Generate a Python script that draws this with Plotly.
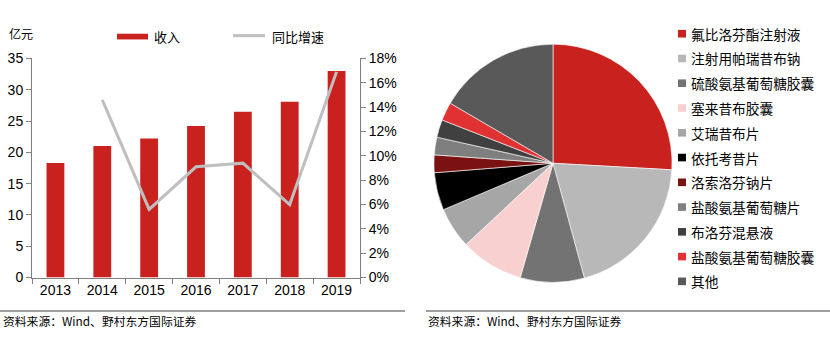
import plotly.graph_objects as go

years = ["2013", "2014", "2015", "2016", "2017", "2018", "2019"]
revenue = [18.3, 21.0, 22.2, 24.2, 26.5, 28.1, 33.0]
growth = [None, 0.146, 0.056, 0.091, 0.094, 0.060, 0.169]

drugs = ["氟比洛芬酯注射液", "注射用帕瑞昔布钠", "硫酸氨基葡萄糖胶囊", "塞来昔布胶囊", "艾瑞昔布片",
         "依托考昔片", "洛索洛芬钠片", "盐酸氨基葡萄糖片", "布洛芬混悬液", "盐酸氨基葡萄糖胶囊", "其他"]
shares = [25.9, 19.9, 8.7, 8.6, 5.6, 5.1, 2.4, 2.4, 2.4, 2.5, 16.6]
pie_colors = ["#C9211E", "#B8B8B8", "#737373", "#F8D0D0", "#A6A6A6", "#000000",
              "#7B1212", "#7F7F7F", "#404040", "#E03232", "#595959"]

W, H = 830, 337
CJK = "Noto Sans CJK SC"
NUM = "Liberation Sans, Arial"

fig = go.Figure()
fig.add_trace(go.Bar(x=years, y=revenue, marker=dict(color="#C9211E", line=dict(width=0)),
                     width=0.38, showlegend=False, xaxis="x", yaxis="y"))
fig.add_trace(go.Scatter(x=years, y=growth, mode="lines", line=dict(color="#BFBFBF", width=3),
                         showlegend=False, xaxis="x", yaxis="y2"))
fig.add_trace(go.Pie(labels=drugs, values=shares, sort=False, direction="clockwise", rotation=0,
                     marker=dict(colors=pie_colors, line=dict(color="white", width=0.6)),
                     textinfo="none", hoverinfo="label+percent", showlegend=False,
                     domain=dict(x=[(553 - 125) / W, (553 + 125) / W],
                                 y=[(H - 163 - 125) / H, (H - 163 + 125) / H])))

axcol = "#808080"
fig.update_layout(
    width=W, height=H, margin=dict(l=0, r=0, t=0, b=0),
    paper_bgcolor="white", plot_bgcolor="white", bargap=0.62,
    xaxis=dict(domain=[32 / W, 360 / W], showline=True, linecolor=axcol, linewidth=1,
               ticks="outside", ticklen=5, tickcolor=axcol, tickson="boundaries",
               tickfont=dict(family=NUM, size=14, color="#000"), anchor="y", showgrid=False),
    yaxis=dict(domain=[(H - 283) / H, (H - 53) / H], range=[0, 35], dtick=5,
               showline=True, linecolor=axcol, linewidth=1, ticks="outside", ticklen=5,
               tickcolor=axcol, showgrid=False, zeroline=False,
               tickfont=dict(family=NUM, size=14, color="#000")),
    yaxis2=dict(overlaying="y", side="right", anchor="x", range=[0, 0.18], dtick=0.02,
                tickformat=".0%", showline=True, linecolor=axcol, linewidth=1,
                ticks="outside", ticklen=5, tickcolor=axcol, showgrid=False, zeroline=False,
                tickfont=dict(family=NUM, size=14, color="#000")),
)

shapes = []
annotations = []
# left legend
shapes.append(dict(type="rect", xref="paper", yref="paper", x0=117 / W, x1=148 / W,
                   y0=(H - 33) / H, y1=(H - 27) / H, fillcolor="#C9211E", line=dict(width=0)))
annotations.append(dict(text="收入", x=152 / W, y=(H - 30) / H, xref="paper", yref="paper",
                        xanchor="left", yanchor="middle", showarrow=False,
                        font=dict(family=CJK, size=13, color="#000")))
shapes.append(dict(type="line", xref="paper", yref="paper", x0=233 / W, x1=265 / W,
                   y0=(H - 29) / H, y1=(H - 29) / H, line=dict(color="#BFBFBF", width=3)))
annotations.append(dict(text="同比增速", x=270 / W, y=(H - 30) / H, xref="paper", yref="paper",
                        xanchor="left", yanchor="middle", showarrow=False,
                        font=dict(family=CJK, size=13, color="#000")))
annotations.append(dict(text="亿元", x=7 / W, y=(H - 27) / H, xref="paper", yref="paper",
                        xanchor="left", yanchor="middle", showarrow=False,
                        font=dict(family=CJK, size=12, color="#000")))

# pie legend
for i, (lab, col) in enumerate(zip(drugs, pie_colors)):
    yc = 27 + i * 26
    shapes.append(dict(type="rect", xref="paper", yref="paper", x0=678 / W, x1=686 / W,
                       y0=(H - yc - 4) / H, y1=(H - yc + 4) / H, fillcolor=col,
                       line=dict(width=0)))
    annotations.append(dict(text=lab, x=689 / W, y=(H - yc) / H, xref="paper", yref="paper",
                            xanchor="left", yanchor="middle", showarrow=False,
                            font=dict(family=CJK, size=13.7, color="#000")))

# footers
for x0, x1, tx in [(0, 405, 1), (426, 830, 426)]:
    shapes.append(dict(type="line", xref="paper", yref="paper", x0=x0 / W, x1=x1 / W,
                       y0=(H - 318) / H, y1=(H - 318) / H, line=dict(color="#7F7F7F", width=1.5)))
    annotations.append(dict(text="资料来源：Wind、野村东方国际证券", x=tx / W, y=(H - 328) / H,
                            xref="paper", yref="paper", xanchor="left", yanchor="middle",
                            showarrow=False, font=dict(family=CJK, size=11.8, color="#000")))

fig.update_layout(shapes=shapes, annotations=annotations)
fig.write_html("out.html")
